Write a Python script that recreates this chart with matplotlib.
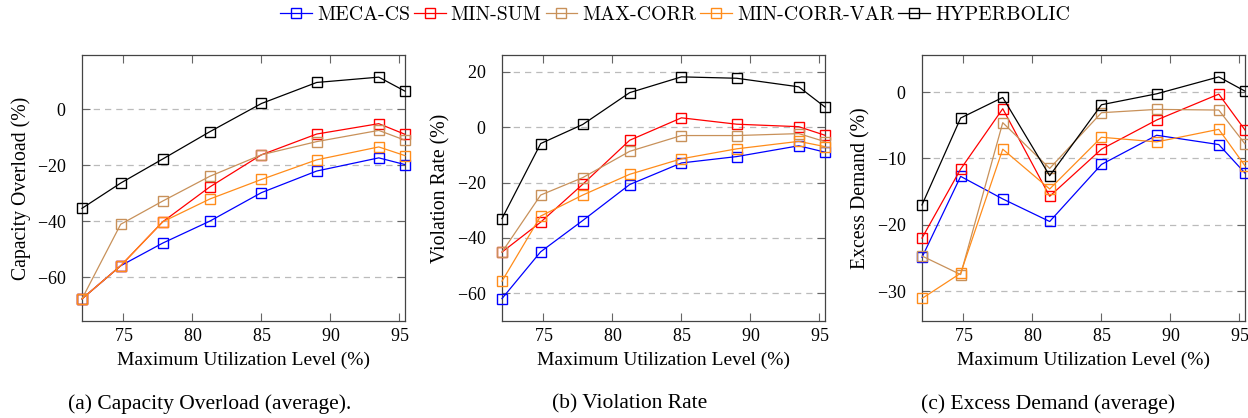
import matplotlib
matplotlib.use("Agg")
import matplotlib.pyplot as plt
from matplotlib.ticker import FixedLocator

plt.rcParams['mathtext.fontset'] = 'cm'
plt.rcParams['axes.formatter.use_mathtext'] = True
plt.rcParams['font.family'] = ['Liberation Serif', 'DejaVu Serif']

# ---------------- data ----------------
util = [72.0, 74.8, 77.85, 81.25, 85.0, 89.0, 93.5, 95.4]
methods = ['MECA-CS', 'MIN-SUM', 'MAX-CORR', 'MIN-CORR-VAR', 'HYPERBOLIC']

overload_meca = [-67.7, -55.9, -47.8, -40.0, -29.8, -22.1, -17.4, -19.8]
overload_minsum = [-67.7, -55.9, -40.2, -27.8, -16.3, -8.9, -5.2, -9.0]
overload_maxcorr = [-67.7, -41.1, -32.8, -24.0, -16.3, -11.6, -7.6, -11.1]
overload_mincorrvar = [-67.7, -55.9, -40.2, -32.1, -25.1, -18.1, -13.5, -16.6]
overload_hyper = [-35.4, -26.4, -17.8, -8.1, 2.0, 9.5, 11.4, 6.4]

viol_meca = [-61.9, -45.0, -33.7, -20.7, -12.9, -10.6, -6.7, -9.0]
viol_minsum = [-45.1, -34.3, -20.6, -4.7, 3.4, 1.1, 0.2, -2.9]
viol_maxcorr = [-45.1, -24.5, -18.2, -8.7, -3.0, -3.0, -2.3, -5.2]
viol_mincorrvar = [-55.6, -32.1, -24.5, -17.0, -11.4, -7.8, -5.1, -7.0]
viol_hyper = [-33.0, -5.9, 1.0, 12.5, 18.2, 17.7, 14.6, 7.3]

excess_meca = [-24.9, -12.7, -16.1, -19.5, -10.9, -6.5, -7.9, -12.2]
excess_minsum = [-22.0, -11.6, -2.5, -15.7, -8.6, -4.2, -0.3, -5.7]
excess_maxcorr = [-24.7, -27.5, -4.6, -11.5, -3.1, -2.6, -2.7, -7.8]
excess_mincorrvar = [-31.1, -27.3, -8.6, -14.6, -6.8, -7.5, -5.6, -11.1]
excess_hyper = [-17.0, -3.9, -0.8, -12.6, -1.9, -0.25, 2.3, 0.15]

x_ticks = [75, 80, 85, 90, 95]
y_ticks_a = [-60, -40, -20, 0]
y_ticks_b = [-60, -40, -20, 0, 20]
y_ticks_c = [-30, -20, -10, 0]

y_labels = ['Capacity Overload (%)', 'Violation Rate (%)', 'Excess Demand (%)']
x_label = 'Maximum Utilization Level (%)'
captions = ['(a) Capacity Overload (average).', '(b) Violation Rate',
            '(c) Excess Demand (average)']

colors = ['#0000FF', '#FF0000', '#C8915A', '#FF8C1A', '#000000']

# ---------------- figure ----------------
W, H = 1248, 418
fig = plt.figure(figsize=(W / 100, H / 100), dpi=100)

panels = [
    ([overload_meca, overload_minsum, overload_maxcorr, overload_mincorrvar, overload_hyper],
     y_ticks_a, (-75.6, 19.3), 82),
    ([viol_meca, viol_minsum, viol_maxcorr, viol_mincorrvar, viol_hyper],
     y_ticks_b, (-70.0, 26.1), 502),
    ([excess_meca, excess_minsum, excess_maxcorr, excess_mincorrvar, excess_hyper],
     y_ticks_c, (-34.5, 5.6), 922),
]

top_px, bot_px, width_px = 55, 321, 323
axes = []
for i, (series, yt, ylim, left_px) in enumerate(panels):
    ax = fig.add_axes([left_px / W, 1 - bot_px / H, width_px / W, (bot_px - top_px) / H])
    for vals, c, name in zip(series, colors, methods):
        ax.plot(util, vals, color=c, lw=0.9, marker='s', ms=7.5, mfc='none',
                mec=c, mew=1.0, label=name, clip_on=False, zorder=3)
    ax.set_xlim(72, 95.4)
    ax.set_ylim(*ylim)
    ax.xaxis.set_major_locator(FixedLocator(x_ticks))
    ax.yaxis.set_major_locator(FixedLocator(yt))
    for y in yt:
        ax.axhline(y, color='#BBBBBB', lw=0.9, ls=(0, (5, 4)), zorder=1)
    ax.tick_params(axis='both', direction='in', length=6, width=0.8, color='#666666',
                   top=True, right=True, labelsize=13)
    ax.tick_params(axis='x', pad=5)
    ax.tick_params(axis='y', pad=11)
    for s in ax.spines.values():
        s.set_color('#444444')
        s.set_linewidth(0.9)
    cx = left_px + width_px / 2
    fig.text(cx / W, 1 - 360 / H, x_label, ha='center', va='center', fontsize=14)
    fig.text((left_px - 61) / W, 1 - 188 / H, y_labels[i], ha='center', va='center',
             rotation=90, fontsize=14.2)
    axes.append(ax)

for cx, cap in zip([210, 630, 1048], captions):
    fig.text(cx / W, 1 - 404 / H, cap, ha='center', va='center', fontsize=15.5)

handles, labels = axes[0].get_legend_handles_labels()
fig.legend(handles, labels, ncol=5, loc='center', bbox_to_anchor=(675 / W, 1 - 15 / H),
           frameon=False, handlelength=1.6, handletextpad=0.25, columnspacing=0.2,
           prop={'family': 'cmr10', 'size': 14.3}, borderaxespad=0)

fig.savefig('out.png', dpi=100)
